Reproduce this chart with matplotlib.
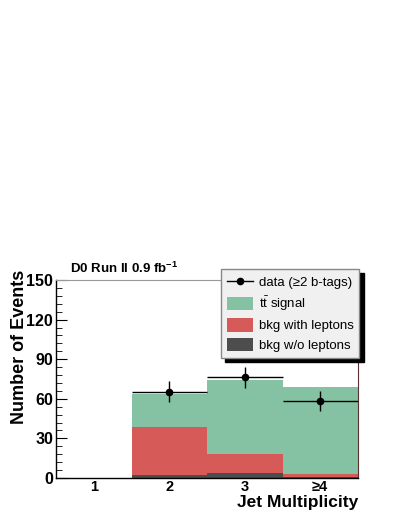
import matplotlib
matplotlib.use("Agg")
import matplotlib.pyplot as plt
from matplotlib.patches import Patch
from matplotlib.lines import Line2D
from matplotlib.ticker import MultipleLocator

plt.rcParams['font.family'] = ['Liberation Sans', 'DejaVu Sans']
plt.rcParams['mathtext.fontset'] = 'custom'
plt.rcParams['mathtext.rm'] = 'Liberation Sans'
plt.rcParams['mathtext.it'] = 'Liberation Sans'
plt.rcParams['mathtext.bf'] = 'Liberation Sans:bold'

categories = ["1", "2", "3", "≥4"]
bkg_no_lep = [0, 2.0, 3.5, 0.5]
bkg_lep = [0, 37.0, 14.5, 2.5]
signal = [0, 25.0, 56.5, 66.0]
data = [None, 65.3, 76.3, 58.5]
data_err = [None, 8.0, 8.0, 7.5]

c_sig = '#85c2a4'
c_lep = '#d55a58'
c_nolep = '#4d4d4d'

fig = plt.figure(figsize=(3.99, 5.16), dpi=100)
ax = fig.add_axes([56/399, 1-478/516, 302/399, 198/516])

x = list(range(len(categories)))
b1 = bkg_no_lep
b2 = [a + b for a, b in zip(bkg_no_lep, bkg_lep)]
ax.bar(x, bkg_no_lep, width=1.0, color=c_nolep, linewidth=0)
ax.bar(x, bkg_lep, width=1.0, bottom=b1, color=c_lep, linewidth=0)
ax.bar(x, signal, width=1.0, bottom=b2, color=c_sig, linewidth=0)

dx = [xi for xi, d in zip(x, data) if d is not None]
dy = [d for d in data if d is not None]
de = [e for e in data_err if e is not None]
ax.errorbar(dx, dy, yerr=de, xerr=0.5, fmt='o', color='black', ms=4.5,
            elinewidth=1.0, capsize=0, zorder=5)

ax.set_xlim(-0.5, 3.5)
ax.set_ylim(0, 150)
ax.set_yticks([0, 30, 60, 90, 120, 150])
ax.yaxis.set_minor_locator(MultipleLocator(6))
ax.set_xticks(x)
ax.set_xticklabels(categories)
ax.tick_params(axis='x', length=0, labelsize=10.5, pad=1.5)
ax.tick_params(axis='y', which='major', direction='in', length=8, labelsize=11.5, pad=2)
ax.tick_params(axis='y', which='minor', direction='in', length=4)
for lab in ax.get_xticklabels() + ax.get_yticklabels():
    lab.set_fontweight('bold')

ax.spines['top'].set_color('#999999')
ax.spines['right'].set_color('#5a3030')
ax.spines['right'].set_linewidth(0.8)
ax.spines['left'].set_linewidth(1.0)
ax.spines['bottom'].set_linewidth(1.0)

ax.set_ylabel('Number of Events', fontsize=13, fontweight='bold')
ax.yaxis.set_label_coords(-0.12, 1.05)
ax.yaxis.label.set_rotation_mode('anchor')
ax.yaxis.label.set_horizontalalignment('right')
ax.yaxis.label.set_verticalalignment('center')
ax.set_xlabel('Jet Multiplicity', fontsize=12.5, fontweight='bold', labelpad=0)
ax.xaxis.set_label_coords(1.0, -0.085)
ax.xaxis.label.set_horizontalalignment('right')
ax.xaxis.label.set_verticalalignment('top')

fig.text(70/399, 1-268/516, r'D0 Run II 0.9 fb$^{\mathbf{-1}}$', fontsize=9.5,
         fontweight='bold', va='center', ha='left')

handles = [
    Line2D([0], [0], color='black', marker='o', ms=4.5, lw=1),
    Patch(facecolor=c_sig, edgecolor='none'),
    Patch(facecolor=c_lep, edgecolor='none'),
    Patch(facecolor=c_nolep, edgecolor='none'),
]
labels = ['data (≥2 b-tags)', r'$\mathrm{t\bar{t}}$ signal', 'bkg with leptons', 'bkg w/o leptons']
leg = ax.legend(handles, labels, loc='upper left', bbox_to_anchor=(221/399, 1-269/516),
                bbox_transform=fig.transFigure, fontsize=9.5, frameon=True, fancybox=False,
                shadow={'ox': 3.2, 'oy': -3.2, 'color': 'black', 'alpha': 1.0},
                borderpad=0.45, labelspacing=0.4, handlelength=2.0, handleheight=1.2,
                handletextpad=0.4, borderaxespad=0)
leg.get_frame().set_facecolor('#f0f0f0')
leg.get_frame().set_edgecolor('#888888')
leg.get_frame().set_alpha(1.0)
leg.set_zorder(10)

fig.savefig('out.png', dpi=100)
